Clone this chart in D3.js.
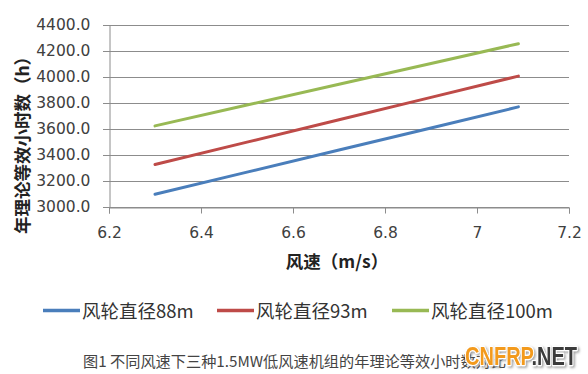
<!DOCTYPE html>
<html><head><meta charset="utf-8">
<script src="https://cdn.jsdelivr.net/npm/d3@7"></script>
<style>body{margin:0;background:#fff;}svg{display:block;}</style>
</head><body>
<svg id="c" width="588" height="374"></svg>
<script>
const windSpeed = [6.3, 6.5, 6.7, 6.9, 7.09];
const d88 = [3098, 3268, 3438, 3608, 3770];
const d93 = [3327, 3499, 3671, 3843, 4007];
const d100 = [3624, 3784, 3944, 4104, 4256];
const seriesNames = ["风轮直径88m", "风轮直径93m", "风轮直径100m"];
const xTicks = [6.2, 6.4, 6.6, 6.8, 7, 7.2];
const yTicks = [3000, 3200, 3400, 3600, 3800, 4000, 4200, 4400];
const colors = ["#4A7EBB", "#BE4B48", "#98B954"];
const series = [d88, d93, d100];

const svg = d3.select("#c");
const x = d3.scaleLinear().domain([6.2, 7.2]).range([109, 569]);
const y = d3.scaleLinear().domain([3000, 4400]).range([207, 25]);
const font = "'DejaVu Sans', sans-serif";
const cjk = "'Noto Sans CJK SC', sans-serif";

const defs = svg.append("defs");
const f = defs.append("filter").attr("id", "sh").attr("x", "-10%").attr("y", "-30%").attr("width", "130%").attr("height", "160%");
f.append("feDropShadow").attr("dx", 1.5).attr("dy", 1.5).attr("stdDeviation", 0.8).attr("flood-color", "#777").attr("flood-opacity", 0.7);

// gridlines
svg.append("g").selectAll("line").data(yTicks).join("line")
  .attr("x1", 103).attr("x2", 569)
  .attr("y1", d => Math.round(y(d)) + 0.5).attr("y2", d => Math.round(y(d)) + 0.5)
  .attr("stroke", "#8c8c8c").attr("stroke-width", 1);

// y axis
const ya = svg.append("g").attr("transform", "translate(109.5,0)")
  .call(d3.axisLeft(y).tickValues(yTicks).tickFormat(d3.format(".1f")).tickSize(6).tickPadding(13));
ya.select(".domain").attr("stroke", "#8c8c8c");
ya.selectAll(".tick line").attr("stroke", "#8c8c8c");
ya.selectAll("text").attr("font-family", font).attr("font-size", 15.5).attr("fill", "#404040");

// x axis
const xa = svg.append("g").attr("transform", "translate(0,207.5)")
  .call(d3.axisBottom(x).tickValues(xTicks).tickFormat(d => d3.format("")(d)).tickSize(6).tickPadding(13));
xa.select(".domain").attr("stroke", "#8c8c8c");
xa.selectAll(".tick line").attr("stroke", "#8c8c8c");
xa.selectAll("text").attr("font-family", font).attr("font-size", 15.5).attr("fill", "#404040");

// lines
const line = d3.line().x((d, i) => x(windSpeed[i])).y(d => y(d));
series.forEach((s, i) => {
  svg.append("path").datum(s).attr("d", line).attr("fill", "none")
    .attr("stroke", colors[i]).attr("stroke-width", 3).attr("stroke-linecap", "round");
});

// axis titles
svg.append("text").attr("x", 337).attr("y", 260).attr("text-anchor", "middle").attr("dominant-baseline", "central")
  .attr("font-family", cjk).attr("font-weight", "bold").attr("font-size", 17.5).attr("fill", "#222")
  .text("风速（m/s）");
svg.append("text").attr("transform", "translate(21,141) rotate(-90)").attr("text-anchor", "middle").attr("dominant-baseline", "central")
  .attr("font-family", cjk).attr("font-weight", "bold").attr("font-size", 17.5).attr("fill", "#222")
  .text("年理论等效小时数（h）");

// legend
const legX = [43, 217, 392];
series.forEach((s, i) => {
  svg.append("line").attr("x1", legX[i]).attr("x2", legX[i] + 37).attr("y1", 310.5).attr("y2", 310.5)
    .attr("stroke", colors[i]).attr("stroke-width", 3.5);
  svg.append("text").attr("x", legX[i] + 39).attr("y", 310).attr("dominant-baseline", "central")
    .attr("font-family", cjk).attr("font-size", 18.5).attr("fill", "#333").text(seriesNames[i]);
});

// caption
svg.append("text").attr("x", 83).attr("y", 360).attr("dominant-baseline", "central")
  .attr("font-family", cjk).attr("font-size", 15.2).attr("fill", "#444")
  .text("图1 不同风速下三种1.5MW低风速机组的年理论等效小时数对比");

// watermark (overlaps the caption, as in the source image)
const wm = svg.append("text").attr("x", 465).attr("y", 365).attr("textLength", 112).attr("lengthAdjust", "spacingAndGlyphs")
  .attr("font-family", "'Liberation Sans', sans-serif").attr("font-weight", "bold").attr("font-size", 25)
  .attr("stroke", "#fff").attr("stroke-width", 2.5).attr("paint-order", "stroke").attr("stroke-linejoin", "round")
  .attr("filter", "url(#sh)");
wm.append("tspan").attr("fill", "#f39a1e").text("CNFRP");
wm.append("tspan").attr("fill", "#3a3a3a").text(".NET");
</script>
</body></html>
